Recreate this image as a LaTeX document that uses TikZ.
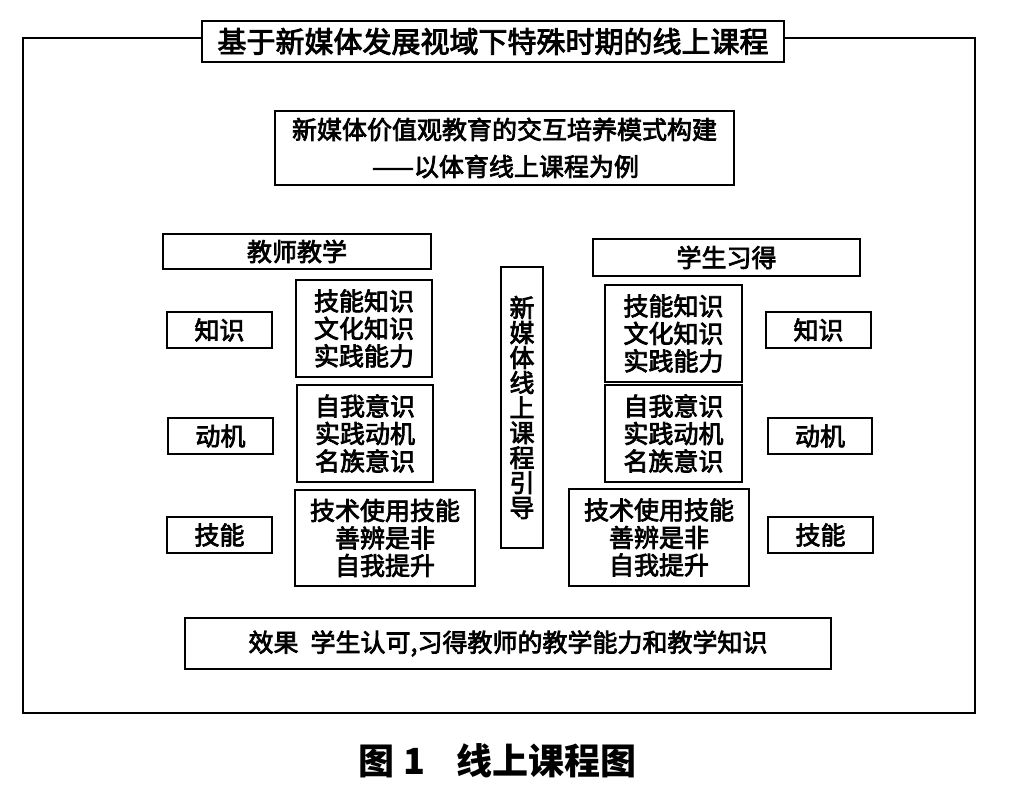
\documentclass[tikz,border=0pt]{standalone}
\usepackage{fontspec}
\newfontfamily\cjk{Noto Sans CJK SC}[FakeBold=3]
\newfontfamily\cjkcap{Noto Sans CJK SC}
\begin{document}
\begin{tikzpicture}[x=1pt,y=-1pt,
  box/.style={draw=black,line width=2pt,fill=white,rectangle,inner sep=0pt,align=center,
    font={\cjk\fontsize{25}{27.5}\selectfont}},
  ]
\useasboundingbox (0,0) rectangle (1011,799);
\fill[white] (0,0) rectangle (1011,799);
% outer frame
\draw[line width=2.5pt] (23,38) rectangle (975,713);
% title
\node[box,minimum width=582pt,minimum height=41pt,font={\cjk\fontsize{29}{32}\selectfont}] (title) at (493,41.5) {基于新媒体发展视域下特殊时期的线上课程};
% subtitle
\node[box,minimum width=459pt,minimum height=74pt,font={\cjk\fontsize{25}{37}\selectfont}] (sub) at (504.5,148) {新媒体价值观教育的交互培养模式构建\\\hspace*{2pt}——以体育线上课程为例};
% headers
\node[box,minimum width=268pt,minimum height=35pt] (teach) at (297,251.5) {教师教学};
\node[box,minimum width=267pt,minimum height=37pt] (learn) at (726.5,257.5) {学生习得};
% center vertical
\node[box,minimum width=42pt,minimum height=281pt,font={\cjk\fontsize{25}{25}\selectfont}] (guide) at (522,407.5) {新\\媒\\体\\线\\上\\课\\程\\引\\导};
% left side
\node[box,minimum width=105pt,minimum height=36pt] (lzs) at (219.5,330) {知识};
\node[box,minimum width=105pt,minimum height=36pt] (ldj) at (220.5,436) {动机};
\node[box,minimum width=105pt,minimum height=36pt] (ljn) at (219.5,535) {技能};
\node[box,minimum width=136pt,minimum height=97pt] (lk1) at (364,328.5) {技能知识\\文化知识\\实践能力};
\node[box,minimum width=136pt,minimum height=97pt] (lk2) at (365,433.5) {自我意识\\实践动机\\名族意识};
\node[box,minimum width=180pt,minimum height=96pt] (lk3) at (385,538) {技术使用技能\\善辨是非\\自我提升};
% right side
\node[box,minimum width=137pt,minimum height=97pt] (rk1) at (673.5,333.5) {技能知识\\文化知识\\实践能力};
\node[box,minimum width=137pt,minimum height=97pt] (rk2) at (673.5,433.5) {自我意识\\实践动机\\名族意识};
\node[box,minimum width=180pt,minimum height=97pt] (rk3) at (659,537.5) {技术使用技能\\善辨是非\\自我提升};
\node[box,minimum width=105pt,minimum height=36pt] (rzs) at (818.5,330) {知识};
\node[box,minimum width=104pt,minimum height=36pt] (rdj) at (820,436) {动机};
\node[box,minimum width=105pt,minimum height=36pt] (rjn) at (820.5,535) {技能};
% effect
\node[box,minimum width=646pt,minimum height=51pt] (effect) at (508,643.5) {效果\hspace{12pt}学生认可,习得教师的教学能力和教学知识};
% caption
\node[inner sep=0pt,font={\cjkcap\bfseries\fontsize{36}{38}\selectfont}] (cap) at (497.5,761) {图\hspace{9pt}1\hspace{32pt}线上课程图};
\end{tikzpicture}
\end{document}
